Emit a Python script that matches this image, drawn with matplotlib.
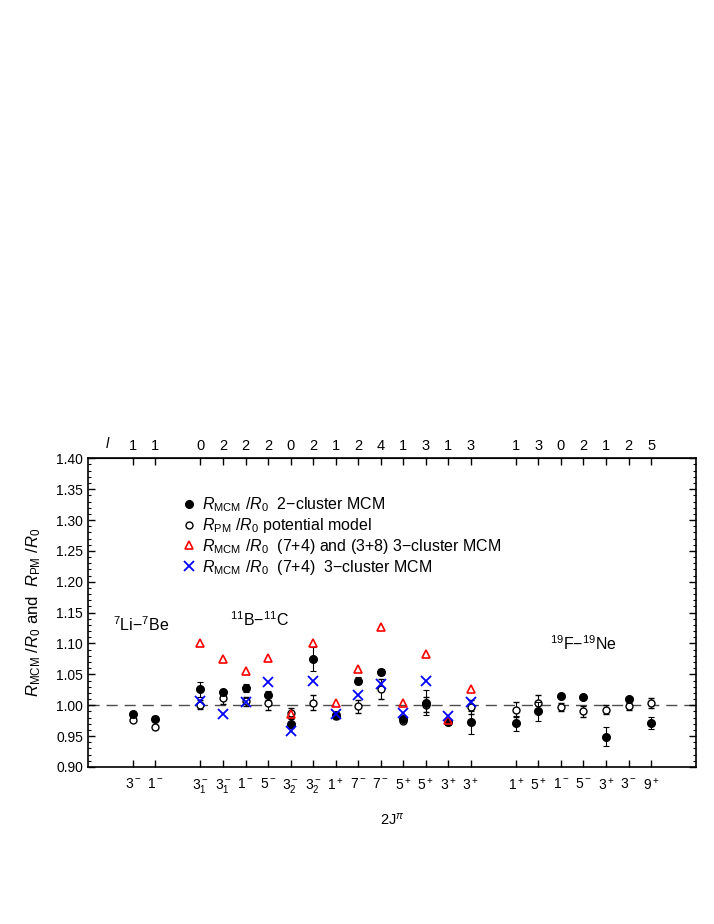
import numpy as np
import matplotlib
matplotlib.use("Agg")
import matplotlib.pyplot as plt
from matplotlib.lines import Line2D
from matplotlib.transforms import blended_transform_factory

plt.rcParams['font.family'] = ['Liberation Sans', 'DejaVu Sans']
plt.rcParams['mathtext.fontset'] = 'custom'
plt.rcParams['mathtext.rm'] = 'Liberation Sans'
plt.rcParams['mathtext.it'] = 'Liberation Sans:italic'

# category positions (three nucleus groups separated by a gap)
pos = [1, 2, 4, 5, 6, 7, 8, 9, 10, 11, 12, 13, 14, 15, 16,
       18, 19, 20, 21, 22, 23, 24]
jpi_labels = [r'$3^-$', r'$1^-$',
              r'$3_1^-$', r'$3_1^-$', r'$1^-$', r'$5^-$', r'$3_2^-$', r'$3_2^-$',
              r'$1^+$', r'$7^-$', r'$7^-$', r'$5^+$', r'$5^+$', r'$3^+$', r'$3^+$',
              r'$1^+$', r'$5^+$', r'$1^-$', r'$5^-$', r'$3^+$', r'$3^-$', r'$9^+$']
l_labels = ['1', '1',
            '0', '2', '2', '2', '0', '2', '1', '2', '4', '1', '3', '1', '3',
            '1', '3', '0', '2', '1', '2', '5']

# 2-cluster MCM
mcm2 = [0.985, 0.978,
        1.026, 1.021, 1.028, 1.016, 0.970, 1.075, 0.984, 1.040, 1.054, 0.977, 1.004, 0.973, 0.972,
        0.971, 0.990, 1.015, 1.014, 0.949, 1.010, 0.971]
mcm2_err = [0.004, 0.004,
            0.012, 0.004, 0.007, 0.007, 0.007, 0.020, 0.004, 0.006, 0.005, 0.003, 0.020, 0.005, 0.018,
            0.012, 0.015, 0.002, 0.002, 0.015, 0.003, 0.010]

# potential model
pm = [0.976, 0.964,
      1.001, 1.012, 1.006, 1.004, 0.987, 1.004, 0.982, 0.998, 1.026, 0.975, 1.001, np.nan, 0.997,
      0.993, 1.004, 0.997, 0.990, 0.993, 0.998, 1.004]
pm_err = [0.002, 0.002,
          0.007, 0.010, 0.008, 0.012, 0.008, 0.012, 0.004, 0.010, 0.016, 0.003, 0.012, 0.0, 0.012,
          0.012, 0.012, 0.007, 0.009, 0.007, 0.006, 0.008]

# 3-cluster MCM, 11B-11C only
pos3 = [4, 5, 6, 7, 8, 9, 10, 11, 12, 13, 14, 15, 16]
mcm3_both = [1.100, 1.075, 1.055, 1.077, 0.986, 1.100, 1.003, 1.059, 1.126, 1.004, 1.083, 0.976, 1.026]
mcm3_74 = [1.007, 0.986, 1.005, 1.038, 0.959, 1.040, 0.986, 1.017, 1.035, 0.988, 1.039, 0.983, 1.005]

fig, ax = plt.subplots(figsize=(7.14, 9.24), dpi=100)
fig.subplots_adjust(left=0.123, right=0.975, bottom=0.170, top=0.504)

ax.axhline(1.0, color='#4d4d4d', lw=1.0, ls=(0, (8, 5)), zorder=1)

ax.errorbar(pos, pm, yerr=pm_err, fmt='o', ms=5, mfc='white', mec='black', mew=1.0,
            ecolor='black', elinewidth=0.8, capsize=2, capthick=0.8, zorder=3)
ax.errorbar(pos, mcm2, yerr=mcm2_err, fmt='o', ms=5.5, mfc='black', mec='black',
            ecolor='black', elinewidth=0.8, capsize=2, capthick=0.8, zorder=4)
ax.plot(pos3, mcm3_both, ls='none', marker='^', ms=6, mfc='none', mec='red', mew=1.2, zorder=5)
ax.plot(pos3, mcm3_74, ls='none', marker='x', ms=7, mec='blue', mew=1.3, zorder=5)

handles = [
    Line2D([], [], ls='none', marker='o', ms=5.5, mfc='black', mec='black'),
    Line2D([], [], ls='none', marker='o', ms=5, mfc='white', mec='black', mew=1.0),
    Line2D([], [], ls='none', marker='^', ms=6, mfc='none', mec='red', mew=1.2),
    Line2D([], [], ls='none', marker='x', ms=7, mec='blue', mew=1.3),
]
labels = [
    r'$R_{\mathrm{MCM}}\ /R_0$  2$-$cluster MCM',
    r'$R_{\mathrm{PM}}\ /R_0$ potential model',
    r'$R_{\mathrm{MCM}}\ /R_0$  (7+4) and (3+8) 3$-$cluster MCM',
    r'$R_{\mathrm{MCM}}\ /R_0$  (7+4)  3$-$cluster MCM',
]
ax.legend(handles, labels, loc='upper left', bbox_to_anchor=(0.145, 0.90), frameon=False,
          fontsize=11.5, handlelength=0.8, handletextpad=0.4, labelspacing=0.12,
          borderaxespad=0)

ax.set_xlim(-1, 26)
ax.set_ylim(0.90, 1.40)
yt = np.arange(0.90, 1.401, 0.05)
ax.set_yticks(yt)
ax.set_yticklabels([f'{v:.2f}' for v in yt])
ax.set_yticks(np.arange(0.90, 1.401, 0.01), minor=True)
ax.set_xticks(pos)
ax.set_xticklabels(jpi_labels)
ax.tick_params(axis='both', which='major', direction='in', length=5, width=1.0,
               labelsize=10, right=True)
ax.tick_params(axis='y', which='minor', direction='in', length=2.5, width=0.8, right=True)
ax.tick_params(axis='x', which='major', pad=7)

top = ax.secondary_xaxis('top')
top.set_xticks(pos)
top.set_xticklabels(l_labels)
top.tick_params(direction='in', length=5, width=1.0, labelsize=10.5, pad=4)
trans = blended_transform_factory(ax.transData, ax.transAxes)
ax.text(-0.1, 1.025, r'$l$', transform=trans, ha='center', va='bottom', fontsize=10.5)

for sp in ax.spines.values():
    sp.set_linewidth(1.2)

ax.set_xlabel(r'2J$^{\pi}$', fontsize=10.5, labelpad=12)
ax.set_ylabel(r'$R_{\mathrm{MCM}}\ /R_0$ and  $R_{\mathrm{PM}}\ /R_0$', fontsize=12, labelpad=9)

ax.text(0.12, 1.13, r'$^{7}$Li$-^{7}$Be', fontsize=11.5, ha='left', va='center')
ax.text(5.3, 1.138, r'$^{11}$B$-^{11}$C', fontsize=11.5, ha='left', va='center')
ax.text(19.5, 1.10, r'$^{19}$F$-^{19}$Ne', fontsize=11.5, ha='left', va='center')

fig.savefig('out.png', dpi=100)
